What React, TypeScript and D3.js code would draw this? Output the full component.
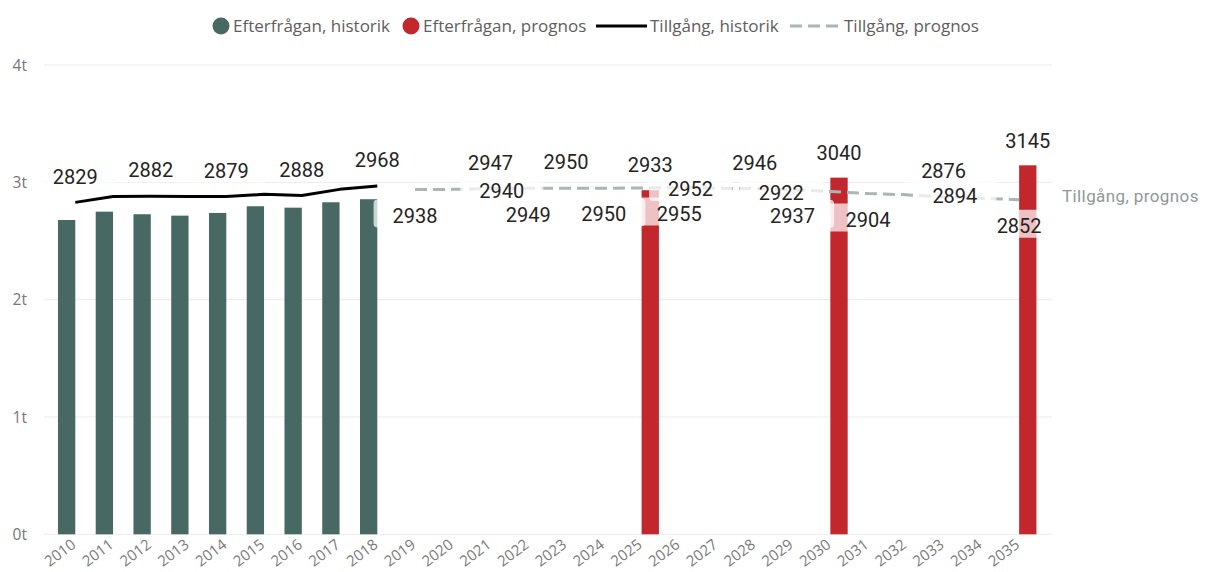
import { useEffect, useRef } from 'react'
import * as d3 from 'd3'

const years = [
  '2010', '2011', '2012', '2013', '2014', '2015', '2016', '2017', '2018',
  '2019', '2020', '2021', '2022', '2023', '2024', '2025', '2026', '2027',
  '2028', '2029', '2030', '2031', '2032', '2033', '2034', '2035',
]

// Efterfrågan, historik (bars)
const demandHistYears = ['2010', '2011', '2012', '2013', '2014', '2015', '2016', '2017', '2018']
const demandHistValues = [2679, 2750, 2728, 2716, 2739, 2796, 2784, 2830, 2856]

// Efterfrågan, prognos (bars)
const demandProgYears = ['2025', '2030', '2035']
const demandProgValues = [2933, 3040, 3145]

// Tillgång, historik (solid line)
const supplyHistYears = ['2010', '2011', '2012', '2013', '2014', '2015', '2016', '2017', '2018']
const supplyHistValues = [2829, 2879, 2882, 2880, 2879, 2898, 2888, 2940, 2968]
const supplyHistLabelPos = ['above', null, 'above', null, 'above', null, 'above', null, 'above']

// Tillgång, prognos (dashed line)
const supplyProgYears = [
  '2019', '2020', '2021', '2022', '2023', '2024', '2025', '2026', '2027',
  '2028', '2029', '2030', '2031', '2032', '2033', '2034', '2035',
]
const supplyProgValues = [
  2938, 2940, 2947, 2949, 2950, 2950, 2952, 2955, 2950,
  2946, 2937, 2922, 2904, 2894, 2876, 2864, 2852,
]
const supplyProgLabelPos = [
  'below', 'right', 'above', 'below', 'above', 'below', 'right', 'below', null,
  'above', 'below', 'left', 'below', 'right', 'above', null, 'below',
]

const yTicks = [0, 1000, 2000, 3000, 4000]

const legendItems = [
  { name: 'Efterfrågan, historik', kind: 'dot', color: '#486863' },
  { name: 'Efterfrågan, prognos', kind: 'dot', color: '#c1272d' },
  { name: 'Tillgång, historik', kind: 'line', color: '#000000' },
  { name: 'Tillgång, prognos', kind: 'dash', color: '#a9b6b3' },
]

const LABEL_FONT = 'DIN, Roboto, sans-serif'
const UI_FONT = '"Segoe UI", "Open Sans", sans-serif'

export default function App() {
  const svgRef = useRef<SVGSVGElement>(null)

  useEffect(() => {
    if (!svgRef.current) return
    const svg = d3.select(svgRef.current)
    svg.selectAll('*').remove()

    const width = 1206
    const height = 572

    svg.attr('viewBox', `0 0 ${width} ${height}`)

    const x = d3.scaleBand<string>()
      .domain(years)
      .range([56.4, 1038])
      .padding(0)

    const sub = d3.scaleBand<string>()
      .domain(['hist', 'prog'])
      .range([0, x.bandwidth()])
      .paddingInner(0)
      .paddingOuter(0.09)

    const y = d3.scaleLinear()
      .domain([0, 4000])
      .range([534.3, 65])

    const cx = (yr: string) => x(yr)! + x.bandwidth() / 2

    // Gridlines
    svg.append('g')
      .selectAll('line')
      .data(yTicks)
      .enter()
      .append('line')
      .attr('x1', 44)
      .attr('x2', 1052)
      .attr('y1', d => y(d))
      .attr('y2', d => y(d))
      .attr('stroke', '#ebebeb')
      .attr('stroke-width', 1)

    // Y axis labels
    svg.append('g')
      .selectAll('text')
      .data(yTicks)
      .enter()
      .append('text')
      .attr('x', 27)
      .attr('y', d => y(d))
      .attr('dy', '0.36em')
      .attr('text-anchor', 'end')
      .attr('font-family', UI_FONT)
      .attr('font-size', '15.5px')
      .attr('fill', '#777')
      .text(d => `${d / 1000}t`)

    // X axis labels
    svg.append('g')
      .selectAll('text')
      .data(years)
      .enter()
      .append('text')
      .attr('transform', d => `translate(${cx(d) - 5},${538}) rotate(-37)`)
      .attr('text-anchor', 'end')
      .attr('dy', '0.72em')
      .attr('font-family', UI_FONT)
      .attr('font-size', '15px')
      .attr('fill', '#7a7a7a')
      .text(d => d)

    // Bars
    svg.append('g')
      .selectAll('rect')
      .data(demandHistYears.map((yr, i) => ({ yr, v: demandHistValues[i] })))
      .enter()
      .append('rect')
      .attr('x', d => x(d.yr)! + sub('hist')!)
      .attr('y', d => y(d.v))
      .attr('width', sub.bandwidth())
      .attr('height', d => y(0) - y(d.v))
      .attr('fill', legendItems[0].color)

    svg.append('g')
      .selectAll('rect')
      .data(demandProgYears.map((yr, i) => ({ yr, v: demandProgValues[i] })))
      .enter()
      .append('rect')
      .attr('x', d => x(d.yr)! + sub('prog')!)
      .attr('y', d => y(d.v))
      .attr('width', sub.bandwidth())
      .attr('height', d => y(0) - y(d.v))
      .attr('fill', legendItems[1].color)

    // Lines
    const line = d3.line<{ yr: string; v: number }>()
      .x(d => cx(d.yr))
      .y(d => y(d.v))
      .curve(d3.curveLinear)

    const histPts = supplyHistYears.map((yr, i) => ({ yr, v: supplyHistValues[i] }))
    const progPts = supplyProgYears.map((yr, i) => ({ yr, v: supplyProgValues[i] }))

    svg.append('path')
      .datum(histPts)
      .attr('d', line)
      .attr('fill', 'none')
      .attr('stroke', '#000')
      .attr('stroke-width', 3)
      .attr('stroke-linejoin', 'round')

    svg.append('path')
      .datum(progPts)
      .attr('d', line)
      .attr('fill', 'none')
      .attr('stroke', legendItems[3].color)
      .attr('stroke-width', 3)
      .attr('stroke-dasharray', '12,6')

    // Data labels
    type Lbl = { x: number; y: number; text: string }
    const labels: Lbl[] = []
    const place = (px: number, py: number, pos: string | null, v: number) => {
      if (!pos) return
      if (pos === 'above') labels.push({ x: px, y: py - 26, text: String(v) })
      if (pos === 'below') labels.push({ x: px, y: py + 26, text: String(v) })
      if (pos === 'right') labels.push({ x: px + 49, y: py + 1, text: String(v) })
      if (pos === 'left') labels.push({ x: px - 49, y: py + 1, text: String(v) })
    }
    histPts.forEach((d, i) => place(cx(d.yr), y(d.v), supplyHistLabelPos[i], d.v))
    progPts.forEach((d, i) => place(cx(d.yr), y(d.v), supplyProgLabelPos[i], d.v))
    demandProgYears.forEach((yr, i) => {
      const bx = x(yr)! + sub('prog')! + sub.bandwidth() / 2
      labels.push({ x: bx, y: y(demandProgValues[i]) - 25, text: String(demandProgValues[i]) })
    })

    const boxG = svg.append('g')
    const textG = svg.append('g')
    labels.forEach(l => {
      const t = textG.append('text')
        .attr('x', l.x)
        .attr('y', l.y)
        .attr('dy', '0.36em')
        .attr('text-anchor', 'middle')
        .attr('font-family', LABEL_FONT)
        .attr('font-size', '20px')
        .attr('fill', '#252423')
        .text(l.text)
      const w = (t.node() as SVGTextElement).getComputedTextLength()
      boxG.append('rect')
        .attr('x', l.x - w / 2 - 19)
        .attr('y', l.y - 16)
        .attr('width', w + 38)
        .attr('height', 28)
        .attr('rx', 4)
        .attr('fill', '#fff')
        .attr('fill-opacity', 0.72)
    })

    // End label of forecast line
    const last = progPts[progPts.length - 1]
    svg.append('text')
      .attr('x', 1062)
      .attr('y', y(last.v) - 4)
      .attr('dy', '0.36em')
      .attr('font-family', LABEL_FONT)
      .attr('font-size', '17px')
      .attr('letter-spacing', '0.4px')
      .attr('fill', '#8d9999')
      .text('Tillgång, prognos')

    // Legend
    const legendX = [221, 411, 596, 790]
    const legend = svg.append('g')
    legendItems.forEach((item, i) => {
      const g = legend.append('g').attr('transform', `translate(${legendX[i]},26)`)
      let tx = 0
      if (item.kind === 'dot') {
        g.append('circle').attr('r', 8.5).attr('fill', item.color)
        tx = 12
      } else {
        g.append('line')
          .attr('x1', 0).attr('x2', 51)
          .attr('stroke', item.color)
          .attr('stroke-width', 3)
          .attr('stroke-dasharray', item.kind === 'dash' ? '12,6' : null)
        tx = 54
      }
      g.append('text')
        .attr('x', tx)
        .attr('dy', '0.35em')
        .attr('font-family', UI_FONT)
        .attr('font-size', '17px')
        .attr('fill', '#605e5c')
        .text(item.name)
    })
  }, [])

  return (
    <svg
      ref={svgRef}
      width={1206}
      height={572}
      style={{ position: 'absolute', left: 0, top: 0, background: '#fff' }}
    />
  )
}
